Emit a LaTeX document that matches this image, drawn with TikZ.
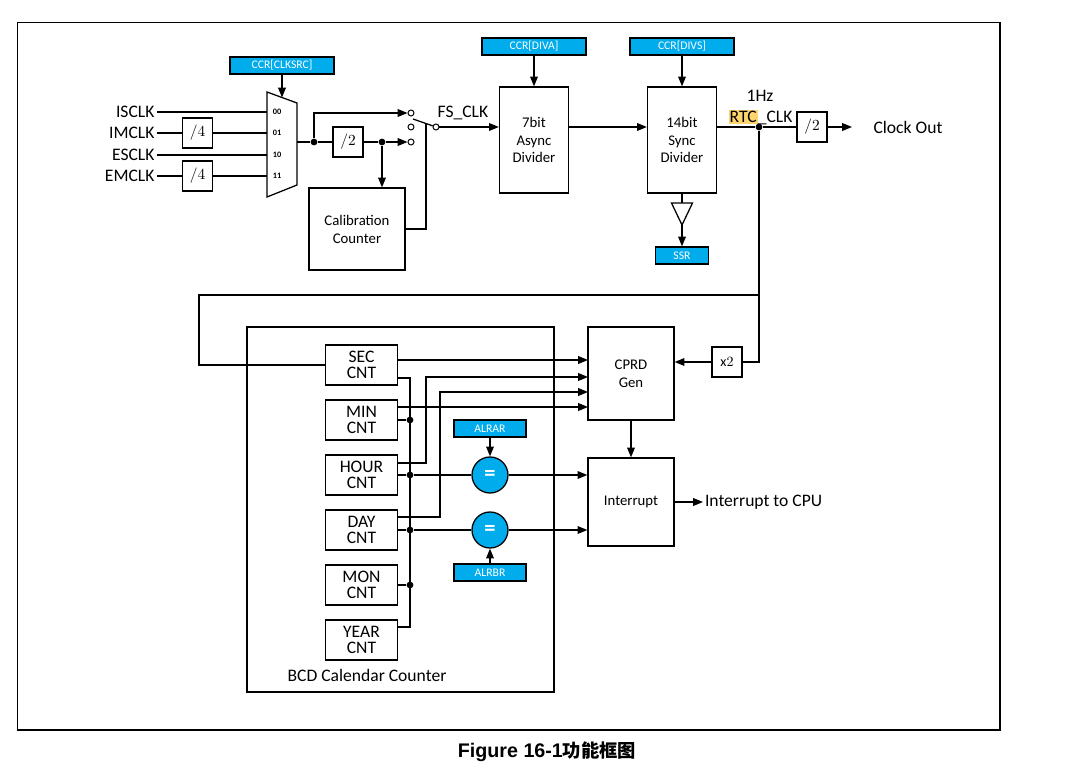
\documentclass[tikz,border=0pt]{standalone}
\usepackage{fontspec}
\setmainfont{Carlito}
\newfontfamily\capfont{Liberation Sans}
\newfontfamily\cjkfont{Noto Sans CJK SC}
\usepackage{xcolor}
\usetikzlibrary{arrows.meta}
\definecolor{regblue}{RGB}{0,172,236}
\definecolor{hl}{RGB}{255,214,110}

\begin{document}
\begin{tikzpicture}[x=0.025cm, y=-0.025cm, line width=0.9pt,
        >={Triangle[length=7pt,width=5.5pt]},
        blk/.style={draw, align=center, inner sep=0pt, font=\fontsize{10.5}{12.7}\selectfont},
        reg/.style={draw, fill=regblue, text=white, inner sep=0pt, minimum height=0.425cm, font=\fontsize{8.3}{9}\selectfont},
        cnt/.style={draw, align=center, inner sep=0pt, minimum width=1.8cm, minimum height=1cm, font=\fontsize{12.5}{11.5}\selectfont},
        dv/.style={draw, inner sep=0pt, minimum size=0.75cm, font=\fontsize{11}{12}\selectfont},
        sw/.style={circle, draw, fill=white, inner sep=0pt, minimum size=0.15cm, line width=0.7pt},
        dot/.style={circle, fill, inner sep=0pt, minimum size=0.17cm},
        eq/.style={circle, draw, fill=regblue, text=white, inner sep=0pt, minimum size=0.9cm, font=\fontsize{16}{16}\selectfont\bfseries},
        lbl/.style={inner sep=1pt, font=\fontsize{12.5}{14}\selectfont},
        mx/.style={inner sep=0pt, font=\fontsize{5.9}{6}\selectfont}]
    \useasboundingbox (0,0) rectangle (1080,781);
    \draw[line width=1.2pt] (17.5,22.5) rectangle (1000,730);
    \node[font=\fontsize{14}{16}\selectfont] (cap) at (547,752) {\capfont\bfseries Figure 16-1\cjkfont\fontsize{13}{16}\selectfont 功能框图};

    \node[reg, minimum width=2.6cm] (clksrc) at (282,65.5) {CCR[CLKSRC]};
    \draw (267,92) -- (297,103) -- (297,185) -- (267,197) -- cycle;
    \coordinate (mt) at (282,97.5);
    \coordinate (m0) at (267,112);
    \coordinate (m1) at (267,133);
    \coordinate (m2) at (267,155);
    \coordinate (m3) at (267,176);
    \coordinate (mo) at (297,142);
    \node[mx] (l0) at (277,112) {$\mathbf{00}$};
    \node[mx] (l1) at (277,133) {$\mathbf{01}$};
    \node[mx] (l2) at (277,155) {$\mathbf{10}$};
    \node[mx] (l3) at (277,176) {$\mathbf{11}$};

    \node[lbl, anchor=east] (isclk) at (156.5,112) {ISCLK};
    \node[lbl, anchor=east] (imclk) at (156.5,133) {IMCLK};
    \node[lbl, anchor=east] (esclk) at (156.5,155) {ESCLK};
    \node[lbl, anchor=east] (emclk) at (156.5,176) {EMCLK};
    \node[dv] (q1) at (197.5,133) {$/4$};
    \node[dv] (q2) at (197.5,176) {$/4$};

    \draw (isclk) -- (m0);
    \draw (imclk) -- (q1) -- (m1);
    \draw (esclk) -- (m2);
    \draw (emclk) -- (q2) -- (m3);
    \draw[->] (clksrc) -- (mt);

    \node[dot] (j0) at (314,142) {};
    \node[dv] (h2) at (348,142) {$/2$};
    \node[dot] (j1) at (382,142) {};
    \node[sw] (s0) at (411,113) {};
    \node[sw] (s1) at (411,127) {};
    \node[sw] (s2) at (411,142) {};
    \node[sw] (s3) at (436,127) {};
    \coordinate (lv) at (413,119);
    \coordinate (lc) at (426,124.5);
    \node[blk, minimum width=2.4cm, minimum height=2.05cm] (cal) at (357,229) {Calibration\\Counter};

    \draw (mo) -- (j0) -- (h2) -- (j1);
    \draw[->] (j0) |- (s0);
    \draw[->] (j1) -- (s2);
    \draw[->] (j1) -- (j1 |- cal.north);
    \draw (lv) -- (s3);
    \draw (cal) -| (lc);

    \node[lbl, anchor=base] (fs) at (463,118) {FS\_CLK};
    \node[blk, minimum width=1.725cm, minimum height=2.65cm] (div7) at (534,140) {7bit\\Async\\Divider};
    \node[reg, minimum width=2.6cm] (diva) at (534,46.5) {CCR[DIVA]};
    \node[blk, minimum width=1.725cm, minimum height=2.65cm] (div14) at (682,140) {14bit\\Sync\\Divider};
    \node[reg, minimum width=2.6cm] (divs) at (682,46.5) {CCR[DIVS]};
    \draw[->] (s3) -- (s3 -| div7.west);
    \draw[->] (diva) -- (div7);
    \draw[->] (divs) -- (div14);
    \draw[->] (div7.east |- s3) -- (div14.west |- s3);

    \coordinate (bt) at (682,203);
    \coordinate (ba) at (682,225);
    \draw (671.5,203) -- (692.5,203) -- (ba) -- cycle;
    \node[reg, minimum width=1.325cm] (ssr) at (682,255.5) {SSR};
    \draw (div14) -- (bt);
    \draw[->] (ba) -- (ssr);

    \node[dot] (jr) at (759,127) {};
    \node[dv] (o2) at (812,127) {$/2$};
    \coordinate (ce) at (852,127);
    \node[lbl] (cko) at (908,127) {Clock Out};
    \node[lbl] (hz) at (760,96) {1Hz};
    \node[lbl, anchor=base] (rtc) at (760.5,123) {\setlength\fboxsep{0.8pt}\colorbox{hl}{RTC}\_CLK};
    \draw (div14.east |- s3) -- (jr) -- (o2);
    \draw[->] (o2) -- (ce);

    \node[dv, font=\fontsize{10}{11}\selectfont] (x2) at (727,362) {$\mathrm{x}2$};
    \node[blk, minimum width=2.15cm, minimum height=2.325cm] (cprd) at (631,373.5) {CPRD\\Gen};
    \node[blk, minimum width=2.15cm, minimum height=2.2cm] (irq) at (631,502) {Interrupt};
    \node[lbl, anchor=west] (cpu) at (703,502) {Interrupt to CPU};
    \draw (jr) |- (x2);
    \draw[->] (x2) -- (x2 -| cprd.east);
    \draw[->] (cprd) -- (irq);
    \draw[->] (irq) -- (cpu);

    \node[draw, minimum width=7.675cm, minimum height=9.125cm] (bcd) at (400.5,509.5) {};
    \node[lbl] (bcdl) at (367,675) {BCD Calendar Counter};
    \node[cnt] (sec) at (361.5,365) {SEC\\CNT};
    \node[cnt] (min) at (361.5,420) {MIN\\CNT};
    \node[cnt] (hour) at (361.5,475) {HOUR\\CNT};
    \node[cnt] (day) at (361.5,530) {DAY\\CNT};
    \node[cnt] (mon) at (361.5,585) {MON\\CNT};
    \node[cnt] (year) at (361.5,640) {YEAR\\CNT};

    \coordinate (lp) at (759,295);
    \draw (lp) -- ++(-560,0) |- (sec);

    \coordinate (ub) at (410,378);
    \coordinate (lb) at (410,627);
    \node[dot] (dmin) at (410,420) {};
    \node[dot] (dhour) at (410,475) {};
    \node[dot] (dday) at (410,530) {};
    \node[dot] (dmon) at (410,585) {};
    \draw (sec.east |- ub) -- (ub) -- (lb) -- (year.east |- lb);
    \draw (min) -- (dmin);
    \draw (mon) -- (dmon);

    \node[eq] (eqa) at (490,475) {=};
    \node[eq] (eqb) at (490,530) {=};
    \node[reg, minimum width=1.8cm] (alrar) at (490,428.5) {ALRAR};
    \node[reg, minimum width=1.8cm] (alrbr) at (490,572.5) {ALRBR};
    \draw (hour) -- (dhour) -- (eqa);
    \draw (day) -- (dday) -- (eqb);
    \draw[->] (alrar) -- (eqa);
    \draw[->] (alrbr) -- (eqb);
    \draw[->] (eqa) -- (eqa -| irq.west);
    \draw[->] (eqb) -- (eqb -| irq.west);

    \coordinate (c1) at (588,360);
    \coordinate (c2) at (588,377);
    \coordinate (c3) at (588,392);
    \coordinate (c4) at (588,407);
    \coordinate (k1) at (426,463);
    \coordinate (k2) at (440,517);
    \draw[->] (sec.east |- c1) -- (c1);
    \draw[->] (hour.east |- k1) -- (k1) |- (c2);
    \draw[->] (day.east |- k2) -- (k2) |- (c3);
    \draw[->] (min.east |- c4) -- (c4);
\end{tikzpicture}
\end{document}
